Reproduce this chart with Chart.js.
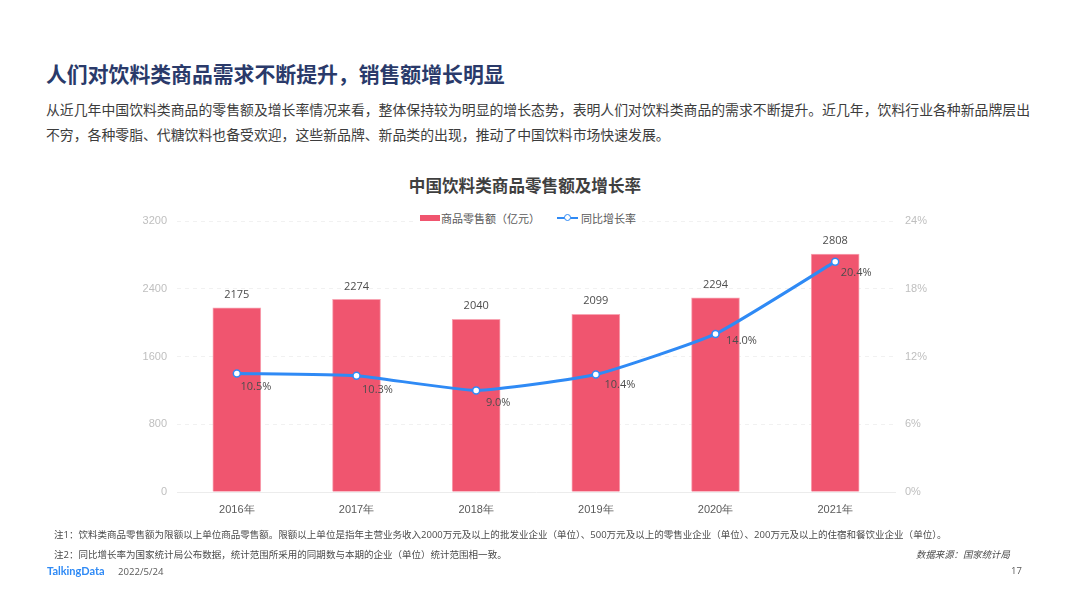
<!DOCTYPE html>
<html lang="zh">
<head>
<meta charset="utf-8">
<title>人们对饮料类商品需求不断提升</title>
<script src="https://cdn.jsdelivr.net/npm/chart.js@4"></script>
<style>
    html, body { margin: 0; padding: 0; background: #fff; }
    body { position: relative; width: 1066px; height: 599px; overflow: hidden;
           font-family: "Open Sans", "Noto Sans CJK SC", sans-serif; }
    .txt { position: absolute; white-space: nowrap; }
    #heading { left: 46px; top: 59px; font-size: 20.85px; line-height: 30px; font-weight: 700; color: #2a3a6a; }
    #intro { left: 46px; top: 97px; font-size: 13.86px; line-height: 25px; color: #3c3c3c; }
    #chartTitle { left: 0; width: 1050px; top: 174px; text-align: center; font-size: 16.6px; line-height: 24px; font-weight: 700; color: #3f3f3f; }
    #chartWrap { position: absolute; left: 0; top: 0; width: 1066px; height: 599px; }
    #legend { position: absolute; left: 414px; top: 209px; height: 18px; padding: 0 6px; background: #fff;
              display: flex; align-items: center; font-size: 11px; color: #595959; }
    #legend i { display: inline-block; }
    .barKey { width: 20px; height: 6px; background: #f0556f; margin-right: 1px; }
    .lineKey { position: relative; width: 21px; height: 2px; background: #2f8af5; margin: 0 3px 0 17px; }
    .lineKey::after { content: ""; position: absolute; left: 7px; top: -3px; width: 5px; height: 5px; border: 1px solid #2f8af5; border-radius: 50%; background: #fff; }
    .note { font-size: 9.53px; color: #4a4a4a; line-height: 14px; }
    #logo { left: 47px; top: 564px; font-size: 11px; line-height: 14px; font-weight: 700; color: #2f8af5; font-family: "Lato", sans-serif; }
    #date { left: 118px; top: 565px; font-size: 9.6px; line-height: 14px; color: #595959; }
    #source { left: 916px; top: 548px; font-size: 9.4px; line-height: 14px; font-style: italic; color: #4a4a4a; }
    #page { left: 1011px; top: 564px; font-size: 9.5px; line-height: 14px; color: #595959; }
</style>
</head>
<body>
<div class="txt" id="heading">人们对饮料类商品需求不断提升，销售额增长明显</div>
<div class="txt" id="intro">从近几年中国饮料类商品的零售额及增长率情况来看，整体保持较为明显的增长态势，表明人们对饮料类商品的需求不断提升。近几年，饮料行业各种新品牌层出<br>不穷，各种零脂、代糖饮料也备受欢迎，这些新品牌、新品类的出现，推动了中国饮料市场快速发展。</div>
<div class="txt" id="chartTitle">中国饮料类商品零售额及增长率</div>
<div id="chartWrap"><canvas id="salesChart" width="1066" height="599"></canvas></div>
<div id="legend"></div>
<div class="txt note" style="left:54px;top:528px">注1：饮料类商品零售额为限额以上单位商品零售额。限额以上单位是指年主营业务收入2000万元及以上的批发业企业（单位）、500万元及以上的零售业企业（单位）、200万元及以上的住宿和餐饮业企业（单位）。</div>
<div class="txt note" style="left:54px;top:548px">注2：同比增长率为国家统计局公布数据，统计范围所采用的同期数与本期的企业（单位）统计范围相一致。</div>
<div class="txt" id="source">数据来源：国家统计局</div>
<div class="txt" id="logo">TalkingData</div>
<div class="txt" id="date">2022/5/24</div>
<div class="txt" id="page">17</div>

<script>
// Chart data
const years = ['2016年', '2017年', '2018年', '2019年', '2020年', '2021年'];
const salesValues = [2175, 2274, 2040, 2099, 2294, 2808];
const growthValues = [10.5, 10.3, 9.0, 10.4, 14.0, 20.4];
const salesName = '商品零售额（亿元）';
const growthName = '同比增长率';

// Small nudges for the growth labels, same as in the original slide
const growthLabelShiftX = [19, 21, 22, 24, 26, 21];
const growthLabelShiftY = [13, 14, 12, 10, 7, 11];

const labelFont = '11px "Open Sans", "Noto Sans CJK SC", sans-serif';

// Value labels over the bars and beside the line points
const valueLabels = {
    id: 'valueLabels',
    afterDatasetsDraw(chart) {
        const c = chart.ctx;
        c.save();
        c.font = labelFont;
        c.fillStyle = '#4d4d4d';
        c.textAlign = 'center';
        c.textBaseline = 'middle';
        chart.getDatasetMeta(0).data.forEach((bar, i) => {
            c.fillText(salesValues[i], bar.x, bar.y - 13);
        });
        chart.getDatasetMeta(1).data.forEach((pt, i) => {
            c.fillText(growthValues[i].toFixed(1) + '%', pt.x + growthLabelShiftX[i], pt.y + growthLabelShiftY[i]);
        });
        c.restore();
    }
};

// Fixed axis boxes, so the plot area lands where it does on the slide
const fixWidth = scale => { scale.width = 45; };
const fixHeight = scale => { scale.height = 30; };

const ctx = document.getElementById('salesChart').getContext('2d');

new Chart(ctx, {
    data: {
        labels: years,
        datasets: [
            {
                type: 'bar',
                label: salesName,
                data: salesValues,
                yAxisID: 'ySales',
                backgroundColor: '#f0556f',
                borderColor: '#f8a5b3',
                borderWidth: 1,
                barThickness: 48,
                order: 2
            },
            {
                type: 'line',
                label: growthName,
                data: growthValues,
                yAxisID: 'yGrowth',
                borderColor: '#2f8af5',
                borderWidth: 3,
                tension: 0.15,
                pointRadius: 3.5,
                pointBorderWidth: 1.5,
                pointBackgroundColor: '#fff',
                pointBorderColor: '#2f8af5',
                order: 1
            }
        ]
    },
    options: {
        responsive: false,
        animation: false,
        layout: { padding: { left: 132, right: 126, top: 221, bottom: 77 } },
        plugins: { legend: { display: false }, tooltip: { enabled: false } },
        scales: {
            x: {
                afterFit: fixHeight,
                grid: { display: false },
                border: { color: '#ececec' },
                ticks: { color: '#595959', font: { size: 11 }, padding: 3, maxRotation: 0 }
            },
            ySales: {
                position: 'left',
                min: 0,
                max: 3200,
                afterFit: fixWidth,
                border: { display: false, dash: [4, 4] },
                grid: { color: '#f1f1f1', drawTicks: false },
                ticks: { stepSize: 800, color: '#bfbfbf', font: { size: 11 }, padding: 10, callback: v => String(v) }
            },
            yGrowth: {
                position: 'right',
                min: 0,
                max: 24,
                afterFit: fixWidth,
                border: { display: false },
                grid: { display: false, drawTicks: false },
                ticks: { stepSize: 6, color: '#bfbfbf', font: { size: 11 }, padding: 10, callback: v => v + '%' }
            }
        }
    },
    plugins: [valueLabels]
});

// Legend sits on top of the first gridline
document.getElementById('legend').innerHTML =
    '<i class="barKey"></i>' + salesName + '<i class="lineKey"></i>' + growthName;
</script>
</body>
</html>
